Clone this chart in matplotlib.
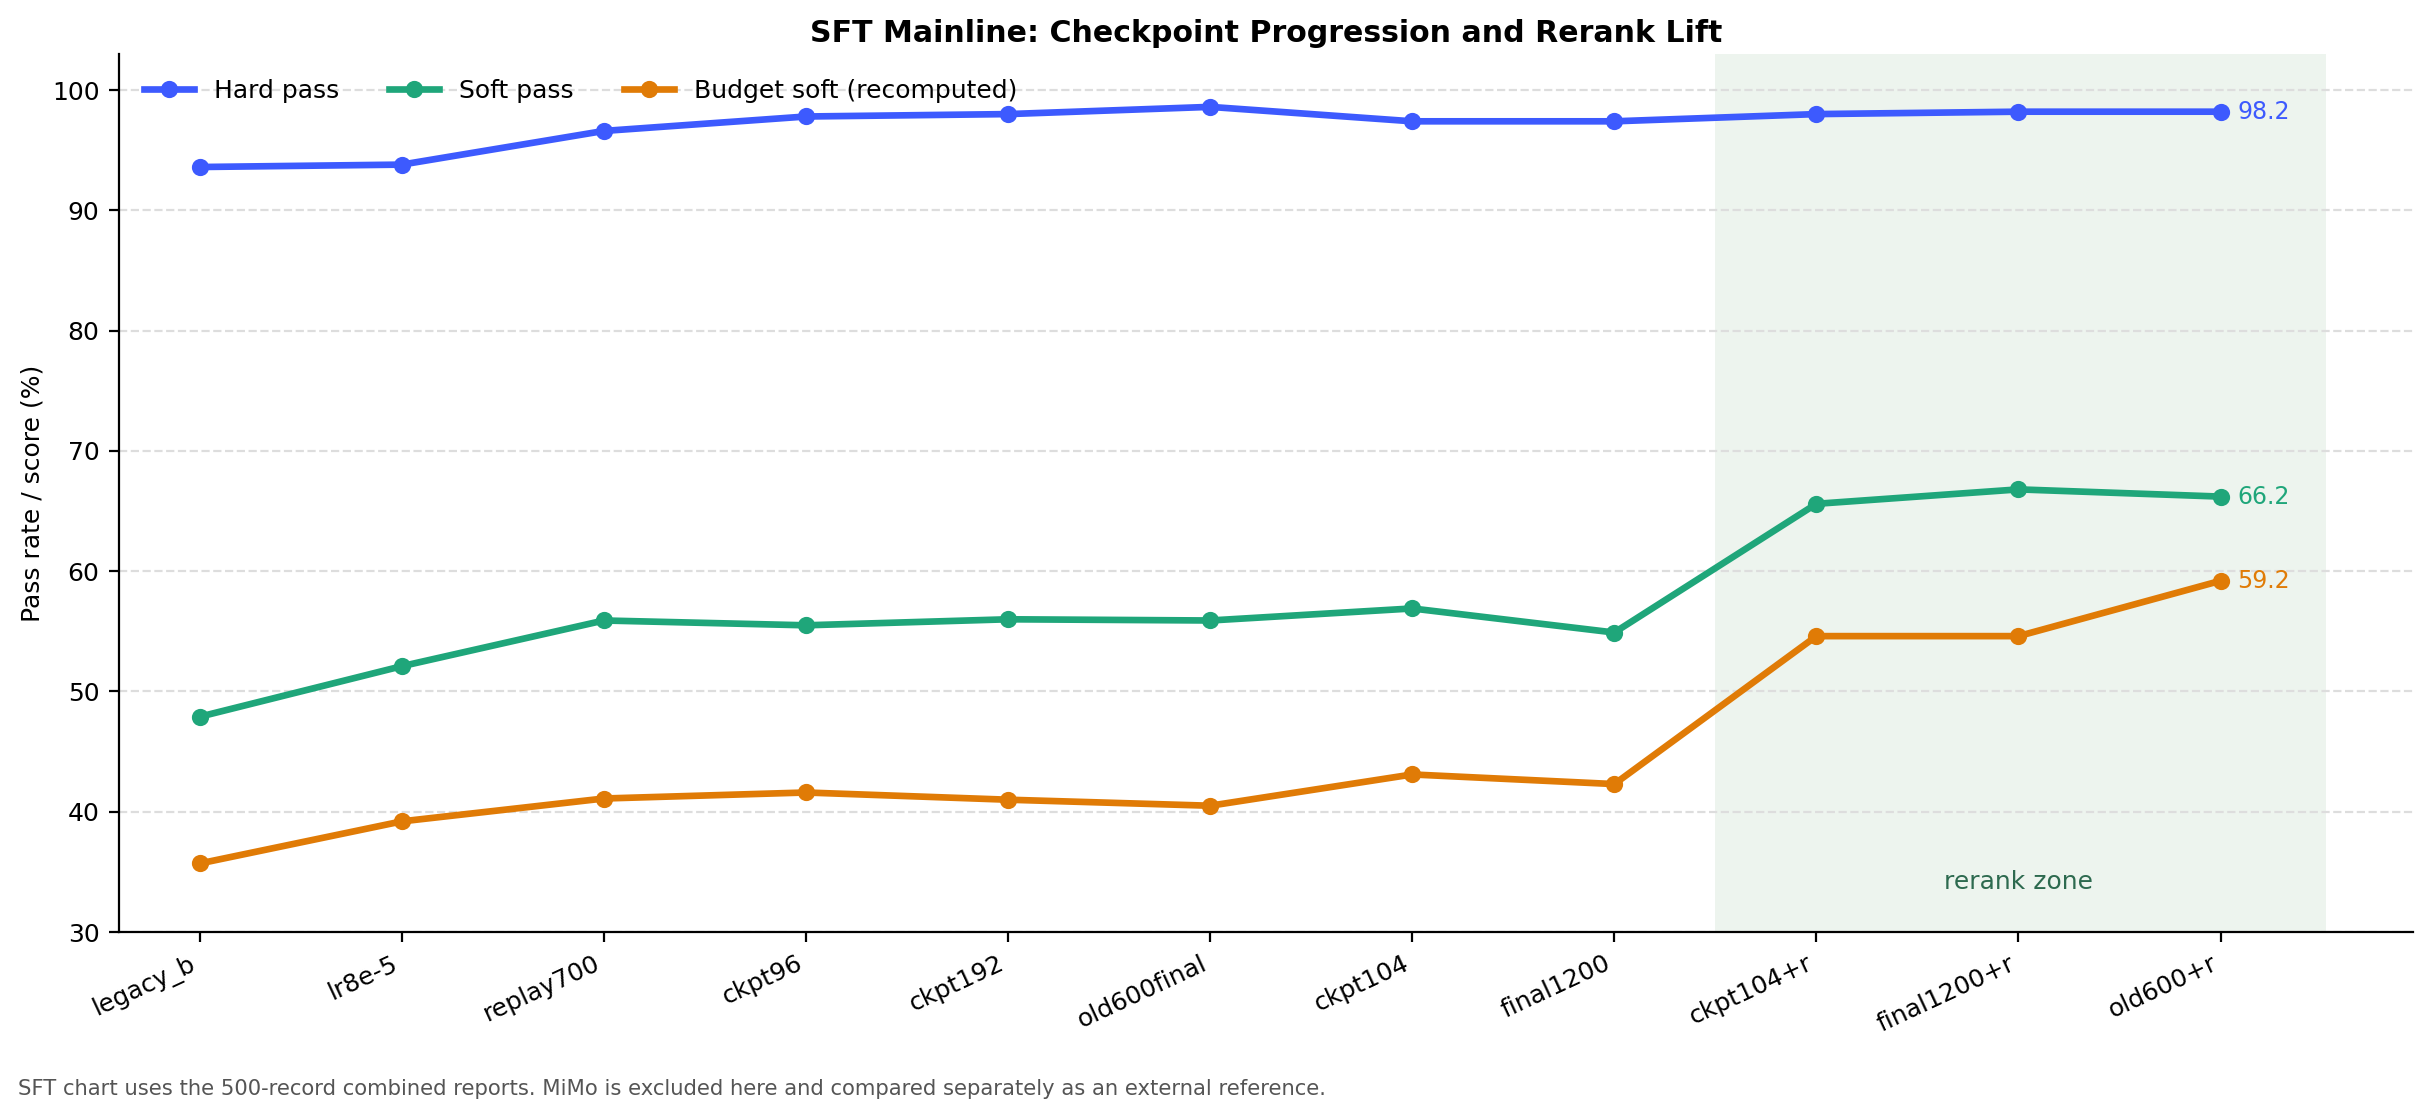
import matplotlib
matplotlib.use("Agg")
import matplotlib.pyplot as plt

checkpoints = ["legacy_b", "lr8e-5", "replay700", "ckpt96", "ckpt192", "old600final",
               "ckpt104", "final1200", "ckpt104+r", "final1200+r", "old600+r"]
hard_pass = [93.6, 93.8, 96.6, 97.8, 98.0, 98.6, 97.4, 97.4, 98.0, 98.2, 98.2]
soft_pass = [47.9, 52.1, 55.9, 55.5, 56.0, 55.9, 56.9, 54.9, 65.6, 66.8, 66.2]
budget_soft = [35.7, 39.2, 41.1, 41.6, 41.0, 40.5, 43.1, 42.3, 54.6, 54.6, 59.2]
series_names = ["Hard pass", "Soft pass", "Budget soft (recomputed)"]
series_colors = ["#3d5afe", "#1fa67a", "#e07b06"]
rerank_start, rerank_end = 7.5, 10.5

plt.rcParams["font.family"] = ["DejaVu Sans"]
plt.rcParams["font.size"] = 9

fig = plt.figure(figsize=(12.16, 5.585), dpi=200)
ax = fig.add_axes([0.0489, 0.1656, 0.9431, 0.7861])

x = list(range(len(checkpoints)))
ax.axvspan(rerank_start, rerank_end + 0.02, color="#edf4ee", zorder=0, lw=0)
ax.text((rerank_start + rerank_end) / 2 + 0.0, 34.2, "rerank zone", color="#2d6a4f",
        ha="center", va="center", fontsize=9)

for vals, name, col in zip([hard_pass, soft_pass, budget_soft], series_names, series_colors):
    ax.plot(x, vals, "-o", color=col, lw=2.4, ms=5.2, label=name, zorder=3)
    ax.annotate(f"{vals[-1]:.1f}", (x[-1], vals[-1]), xytext=(6, 0),
                textcoords="offset points", color=col, va="center", ha="left", fontsize=8.5)

ax.set_xlim(-0.4, 10.95)
ax.set_ylim(30, 103)
ax.set_xticks(x)
ax.set_xticklabels(checkpoints, rotation=25, ha="right")
ax.set_yticks([30, 40, 50, 60, 70, 80, 90, 100])
ax.grid(axis="y", linestyle="--", color="#dddddd", lw=0.8)
ax.set_axisbelow(True)
for s in ["top", "right"]:
    ax.spines[s].set_visible(False)
ax.set_ylabel("Pass rate / score (%)", labelpad=2.5)
ax.set_title("SFT Mainline: Checkpoint Progression and Rerank Lift", fontsize=10.8,
             fontweight="bold", pad=4.3)
ax.legend(loc="upper left", ncol=3, frameon=False, fontsize=9, handlelength=2.0,
          borderaxespad=0.6)

fig.text(0.0075, 0.025, "SFT chart uses the 500-record combined reports. MiMo is excluded here "
         "and compared separately as an external reference.", fontsize=7.6, color="#555555",
         ha="left", va="center")

fig.savefig("out.png", dpi=200)
